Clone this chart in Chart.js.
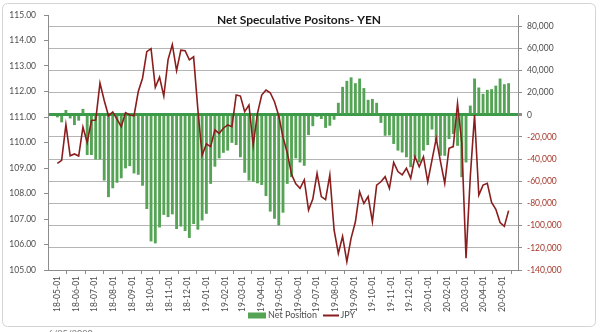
<!DOCTYPE html>
<html>
<head>
<meta charset="utf-8">
<script src="https://cdn.jsdelivr.net/npm/chart.js@4.4.1/dist/chart.umd.min.js"></script>
<style>
  html, body { margin: 0; padding: 0; background: #fff; }
</style>
</head>
<body>
<canvas id="grafico" width="600" height="332"></canvas>
<script>
// weekly COT data, Tuesdays from 2018-05-01
const weekStart = "2018-05-01";

const monthLabels = [
  "18-05-01", "18-06-01", "18-07-01", "18-08-01", "18-09-01", "18-10-01",
  "18-11-01", "18-12-01", "19-01-01", "19-02-01", "19-03-01", "19-04-01",
  "19-05-01", "19-06-01", "19-07-01", "19-08-01", "19-09-01", "19-10-01",
  "19-11-01", "19-12-01", "20-01-01", "20-02-01", "20-03-01", "20-04-01",
  "20-05-01",
];

const posTicks = [
  -140000, -120000, -100000, -80000, -60000, -40000, -20000, 0,
  20000, 40000, 60000, 80000,
];

const netPosition = [
  -2000, -6500, 4000, -3000, -9000, -5000, 5000, -36000, -36000, -40000,
  -40000, -59000, -74000, -66000, -61000, -57000, -48000, -46000, -52600, -53800,
  -63700, -84700, -113900, -115700, -101300, -90000, -92000, -89500, -102700, -100500,
  -104500, -110800, -98200, -103300, -95000, -89000, -62000, -46500, -39000, -34000,
  -32000, -25000, -27000, -38000, -52000, -59000, -60000, -61500, -63000, -73000,
  -87000, -93500, -99500, -88000, -62000, -56000, -39000, -42700, -45700, -18000,
  -10000, -1500, -3500, -11500, -9600, -4200, 10500, 24900, 30300, 33500,
  28200, 32400, 23800, 13200, 14000, 10500, -7000, -18600, -18300, -26000,
  -32000, -33700, -38000, -47000, -38000, -42700, -32000, -27000, -13000, -23000,
  -36700, -36700, -21600, -17000, -27700, -56000, -42700, 8000, 32400, 24300,
  18600, 22200, 22800, 26000, 32400, 27300, 28200,
];

const jpy = [
  109.18, 109.30, 110.70, 109.48, 109.55, 109.47, 110.60, 110.00, 110.86, 110.88,
  112.33, 111.65, 111.05, 111.20, 110.92, 110.62, 111.17, 111.08, 111.05, 112.00,
  112.52, 113.56, 113.68, 112.16, 112.56, 111.82, 113.25, 113.84, 112.82, 113.62,
  113.60, 113.24, 113.36, 111.30, 109.50, 109.94, 109.84, 110.49, 110.36, 110.56,
  110.69, 110.62, 111.86, 111.82, 111.21, 111.47, 109.90, 111.14, 111.86, 112.06,
  111.95, 111.60, 111.05, 110.20, 109.60, 108.75, 108.38, 108.20, 108.53, 107.35,
  107.78, 108.79, 107.88, 107.76, 108.73, 106.57, 105.65, 106.32, 105.33, 106.25,
  106.88, 108.07, 107.61, 107.88, 106.90, 108.33, 108.46, 108.66, 108.20, 109.22,
  108.86, 108.73, 108.99, 108.60, 109.44, 109.05, 109.44, 108.46, 109.31, 110.16,
  109.25, 108.40, 109.77, 109.84, 111.53, 109.97, 105.46, 108.66, 111.08, 107.94,
  108.33, 108.40, 107.65, 107.38, 106.86, 106.71, 107.33,
];

const FONT = "Lato, 'Liberation Sans', sans-serif";
const VERDE = "#55a455";
const VERDE_ZERO = "#3a9a48";
const VINHO = "#8a1d1d";
const CINZA = "#4d4d4d";
const VERMELHO = "#a53a2e";

// days since weekStart
const DIA = 86400000;
const inicio = Date.parse(weekStart + "T00:00:00Z");
function diasDesde(label) {
  const [yy, mm, dd] = label.split("-").map(Number);
  return (Date.UTC(2000 + yy, mm - 1, dd) - inicio) / DIA;
}
const monthDays = monthLabels.map(diasDesde);

const pontosBarra = netPosition.map((v, i) => ({ x: i * 7, y: v }));
const pontosLinha = jpy.map((v, i) => ({ x: i * 7, y: v }));
const ultimoDia = (jpy.length - 1) * 7;

function milhar(v) {
  return String(v).replace(/\B(?=(\d{3})+(?!\d))/g, ",");
}

const moldura = {
  id: "moldura",
  beforeDraw(chart) {
    const c = chart.ctx;
    c.save();
    c.fillStyle = "#fff";
    c.fillRect(0, 0, chart.width, chart.height);
    c.strokeStyle = "#d4d4d4";
    c.lineWidth = 1;
    c.beginPath();
    c.roundRect(2.5, 3.5, 593, 323, 5);
    c.stroke();
    c.restore();
  },
  afterDraw(chart) {
    const c = chart.ctx;
    c.save();
    // titulo
    c.font = "bold 12px " + FONT;
    c.fillStyle = "#1a1a1a";
    c.textAlign = "center";
    c.textBaseline = "middle";
    c.fillText("Net Speculative Positons- YEN", 299, 20.5);

    // legenda
    c.font = "9px " + FONT;
    c.textAlign = "left";
    c.fillStyle = chart.data.datasets[0].backgroundColor;
    c.fillRect(248, 312.5, 18, 6);
    c.fillStyle = CINZA;
    c.fillText(chart.data.datasets[0].label, 268, 315.5);
    c.strokeStyle = chart.data.datasets[1].borderColor;
    c.lineWidth = 2;
    c.beginPath();
    c.moveTo(323, 315.5);
    c.lineTo(339, 315.5);
    c.stroke();
    c.fillText(chart.data.datasets[1].label, 340.5, 315.5);

    // data cortada no rodape
    c.font = "9px " + FONT;
    c.fillStyle = "#777";
    c.textBaseline = "top";
    c.fillText("6/25/2020", 48, 330);
    c.restore();
  },
};

new Chart(document.getElementById("grafico"), {
  type: "bar",
  data: {
    datasets: [
      {
        type: "bar",
        label: "Net Position",
        data: pontosBarra,
        yAxisID: "y1",
        backgroundColor: VERDE,
        barThickness: 2.2,
        order: 2,
      },
      {
        type: "line",
        label: "JPY",
        data: pontosLinha,
        yAxisID: "y",
        borderColor: VINHO,
        borderWidth: 1.6,
        pointRadius: 0,
        tension: 0,
        order: 1,
      },
    ],
  },
  options: {
    responsive: false,
    animation: false,
    devicePixelRatio: 1,
    layout: { padding: { top: 15, left: 0, right: 0, bottom: 0 } },
    plugins: {
      legend: { display: false },
      tooltip: { enabled: false },
    },
    scales: {
      x: {
        type: "linear",
        min: 0,
        max: ultimoDia,
        afterBuildTicks: (s) => {
          s.ticks = monthDays.map((v) => ({ value: v }));
        },
        afterFit: (s) => {
          s.height = 62;
        },
        ticks: {
          autoSkip: false,
          maxRotation: 90,
          minRotation: 90,
          padding: 2,
          color: CINZA,
          font: { family: FONT, size: 8.5 },
          callback: (v, i) => monthLabels[i],
        },
        grid: { drawOnChartArea: false, tickLength: 4, color: "#8c8c8c" },
        border: { color: "#8c8c8c" },
      },
      y: {
        position: "left",
        min: 105,
        max: 115,
        afterFit: (s) => {
          s.width = 48;
        },
        ticks: {
          stepSize: 1,
          padding: 8,
          color: CINZA,
          font: { family: FONT, size: 8.5 },
          callback: (v) => v.toFixed(2),
        },
        grid: { drawOnChartArea: false, tickLength: 4, color: "#8c8c8c" },
        border: { color: "#8c8c8c" },
      },
      y1: {
        position: "right",
        min: -140000,
        max: 90000,
        afterBuildTicks: (s) => {
          s.ticks = posTicks.map((v) => ({ value: v }));
        },
        afterFit: (s) => {
          s.width = 82;
        },
        ticks: {
          padding: 5,
          font: { family: FONT, size: 8.5 },
          color: (c) => (c.tick.value < 0 ? VERMELHO : CINZA),
          callback: (v) => milhar(v),
        },
        grid: {
          color: (c) => (c.tick.value === 0 ? VERDE_ZERO : "#b5b5b5"),
          lineWidth: (c) => (c.tick.value === 0 ? 3 : 1),
          tickColor: "#8c8c8c",
          tickLength: 4,
        },
        border: { color: "#8c8c8c" },
      },
    },
  },
  plugins: [moldura],
});
</script>
</body>
</html>
